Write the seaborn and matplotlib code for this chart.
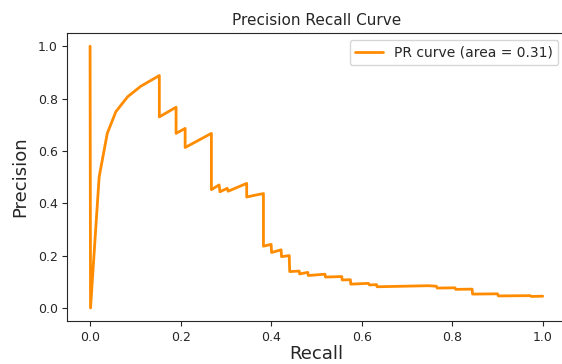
import matplotlib
matplotlib.use("Agg")
import matplotlib.pyplot as plt
import seaborn as sns

# PR curve points (ascending recall)
recall = [0.0, 0.001, 0.020, 0.038, 0.057, 0.083, 0.112, 0.153, 0.153, 0.190,
          0.190, 0.210, 0.210, 0.268, 0.268, 0.285, 0.287, 0.303, 0.305, 0.346,
          0.346, 0.365, 0.383, 0.383, 0.400, 0.401, 0.422, 0.423, 0.440, 0.441,
          0.462, 0.463, 0.481, 0.482, 0.519, 0.520, 0.556, 0.557, 0.575, 0.576,
          0.615, 0.617, 0.633, 0.634, 0.748, 0.765, 0.767, 0.806, 0.808, 0.844,
          0.845, 0.900, 0.902, 0.972, 0.975, 1.0]
precision = [1.0, 0.0, 0.500, 0.667, 0.750, 0.807, 0.847, 0.888, 0.730, 0.767,
             0.667, 0.686, 0.613, 0.667, 0.452, 0.470, 0.444, 0.457, 0.446, 0.476,
             0.424, 0.431, 0.437, 0.236, 0.243, 0.212, 0.222, 0.196, 0.200, 0.139,
             0.141, 0.130, 0.136, 0.124, 0.129, 0.118, 0.120, 0.107, 0.108, 0.091,
             0.094, 0.088, 0.089, 0.081, 0.085, 0.083, 0.076, 0.077, 0.071, 0.072,
             0.053, 0.054, 0.046, 0.047, 0.044, 0.045]
pr_auc = 0.31

sns.set_style("ticks")

fig = plt.figure(figsize=(5.62, 3.64), dpi=100)
# axes run past the right edge, like the cropped original
ax = fig.add_axes([0.12, 0.118, 0.886, 0.791])
ax.spines["right"].set_visible(False)

sns.lineplot(x=recall, y=precision, sort=False, estimator=None, ax=ax,
             color="darkorange", lw=2, label=f"PR curve (area = {pr_auc:.2f})")

ax.set_xticks([0.0, 0.2, 0.4, 0.6, 0.8, 1.0])
ax.set_yticks([0.0, 0.2, 0.4, 0.6, 0.8, 1.0])
ax.tick_params(labelsize=9)
ax.set_xlabel("Recall", fontsize=13, labelpad=1)
ax.set_ylabel("Precision", fontsize=13, labelpad=6)
ax.set_title("Precision Recall Curve", fontsize=11)
ax.legend(loc="upper right", fontsize=10, frameon=True)

fig.savefig("out.png", dpi=100)
